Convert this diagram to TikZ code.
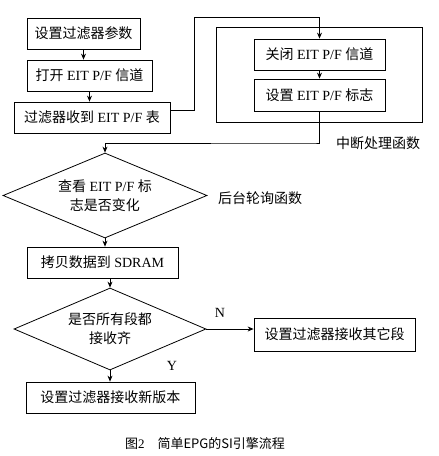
\documentclass[tikz,border=0pt]{standalone}
\usepackage{fontspec}
\setmainfont{Liberation Serif}
\newfontfamily\cjk{Noto Sans CJK SC}
\usetikzlibrary{arrows.meta,shapes.geometric,fit}
\begin{document}
\begin{tikzpicture}[x=1pt, y=-1pt, >={Stealth[length=6pt,width=5pt]}, line width=.8pt,
    box/.style={draw, rectangle, inner sep=0pt, minimum height=31pt, font=\fontsize{14pt}{17pt}\selectfont},
    choice/.style={draw, diamond, aspect=2.4, inner sep=0pt, align=center, font=\fontsize{14pt}{19pt}\selectfont},
    frame/.style={draw, rectangle, inner xsep=37pt, inner ysep=11pt},
    tag/.style={inner sep=0pt, font=\fontsize{14pt}{17pt}\selectfont}]
    \path[fill=white, use as bounding box] (0,0) rectangle (439,456);
    
    % main column
    \node[box, minimum width=113pt] (setf) at (83.5,33.5) {\cjk 设置过滤器参数};
    \node[box, minimum width=125pt] (open) at (89.5,75.5) {{\cjk 打开} EIT P/F\ {\cjk 信道}};
    \node[box, minimum width=156pt] (recv) at (92,117.5) {{\cjk 过滤器收到} EIT P/F {\cjk 表}};
    
    % interrupt handler
    \node[box, minimum width=131pt] (close) at (319.5,54.5) {{\cjk 关闭} EIT P/F\ {\cjk 信道}};
    \node[box, minimum width=131pt, minimum height=32pt] (flag) at (319.5,95) {{\cjk 设置} EIT P/F {\cjk 标志}};
    \node[frame, fit=(close)(flag)] (isr) {};
    \node[tag] (isrname) at (378,143) {\cjk 中断处理函数};
    
    % polling loop
    \node[choice, minimum width=204pt, minimum height=85pt] (look) at (105,195.5) {{\cjk 查看} EIT P/F {\cjk 标}\\{\cjk 志是否变化}};
    \node[tag] (pollname) at (260,198) {\cjk 后台轮询函数};
    \node[box, minimum width=151pt] (copy) at (102.5,262.5) {{\cjk 拷贝数据到} SDRAM};
    \node[choice, minimum width=192pt, minimum height=82pt] (all) at (110,329) {\cjk 是否所有段都\\\cjk 接收齐};
    \node[box, minimum width=161pt, minimum height=33pt] (other) at (334.5,334.5) {\cjk 设置过滤器接收其它段};
    \node[box, minimum width=169pt] (newver) at (110.5,397.5) {\cjk 设置过滤器接收新版本};
    \node[tag] (no) at (220,313) {N};
    \node[tag] (yes) at (172,366) {Y};
    
    \node[tag, font=\fontsize{13pt}{15pt}\selectfont] (title) at (205,444) {{\cjk 图}2\quad{\cjk 简单EPG的SI引擎流程}};
    
    \coordinate (up) at (194,17);
    \coordinate (down) at (314,143);
    
    \draw[->] (setf.south) -- (setf.south |- open.north);
    \draw[->] (open.south) -- (open.south |- recv.north);
    \draw[->] ([yshift=7.5pt]recv.east) -- ([yshift=7.5pt]recv.east -| up) -- (up) -| (close.north);
    \draw[->] (close) -- (flag);
    \draw[->] (flag.south) |- (down) -| (look.north);
    \draw[->] (look.south) -- (look.south |- copy.north);
    \draw[->] (all.north |- copy.south) -- (all.north);
    \draw[->] (all.east) -- (all.east -| other.west);
    \draw[->] (all.south) -- (all.south |- newver.north);
    
\end{tikzpicture}
\end{document}
